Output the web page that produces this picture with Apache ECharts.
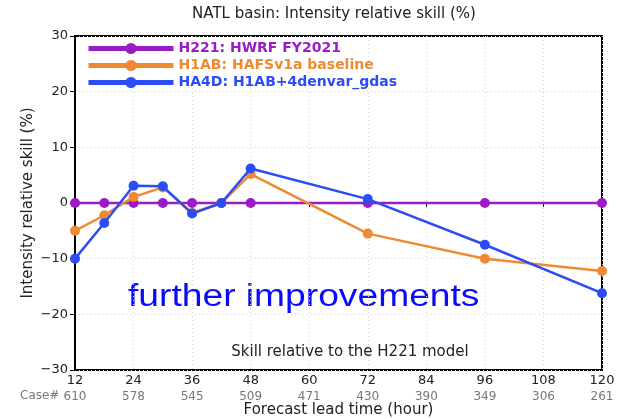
<!DOCTYPE html>
<html>
<head>
<meta charset="utf-8">
<script src="https://cdn.jsdelivr.net/npm/echarts@6/dist/echarts.min.js"></script>
<style>html,body{margin:0;padding:0;background:#fff}#c{width:620px;height:419px}</style>
</head>
<body>
<div id="c"></div>
<script>
const leadTimes = [12, 18, 24, 30, 36, 42, 48, 72, 96, 120];
const h221 = [0, 0, 0, 0, 0, 0, 0, 0, 0, 0];
const h1ab = [-5.0, -2.2, 1.1, 2.8, -1.8, 0, 5.2, -5.5, -10.0, -12.2];
const ha4d = [-10.0, -3.6, 3.1, 3.0, -1.9, 0, 6.2, 0.7, -7.5, -16.2];
const tickHours = [12, 24, 36, 48, 60, 72, 84, 96, 108, 120];
const caseCounts = [610, 578, 545, 509, 471, 430, 390, 349, 306, 261];
const seriesNames = ['H221: HWRF FY2021', 'H1AB: HAFSv1a baseline', 'HA4D: H1AB+4denvar_gdas'];
const colors = ['#9a1cc6', '#f08a32', '#2c4cf5'];

const pairs = arr => leadTimes.map((x, i) => [x, arr[i]]);
const caseMap = {};
tickHours.forEach((h, i) => caseMap[h] = caseCounts[i]);
const F = 'DejaVu Sans';

const chart = echarts.init(document.getElementById('c'));
chart.setOption({
  animation: false,
  grid: { left: 75, right: 18, top: 36, bottom: 49, outerBoundsMode: 'none', containLabel: false,
          show: true, borderColor: '#000', borderWidth: 2, backgroundColor: 'transparent' },
  xAxis: {
    type: 'value', min: 12, max: 120, interval: 12,
    axisLine: { lineStyle: { color: '#000', width: 2 } },
    axisTick: { show: true, inside: false, length: 4, lineStyle: { color: '#000' } },
    splitLine: { show: true, lineStyle: { color: '#d6d6d6', type: [1, 3], width: 1 } },
    axisLabel: {
      margin: 3,
      formatter: v => '{t|' + v + '}\n{c|' + caseMap[v] + '}',
      rich: {
        t: { fontFamily: F, fontSize: 13, color: '#222', lineHeight: 16 },
        c: { fontFamily: F, fontSize: 12, color: '#777', lineHeight: 16 }
      }
    },
    name: 'Forecast lead time (hour)', nameLocation: 'middle', nameGap: 33, nameMoveOverlap: false,
    nameTextStyle: { fontFamily: F, fontSize: 15, color: '#222' }
  },
  yAxis: {
    type: 'value', min: -30, max: 30, interval: 10,
    axisLine: { show: true, lineStyle: { color: '#000', width: 2 } },
    axisTick: { show: true, inside: false, length: 5, lineStyle: { color: '#000' } },
    splitLine: { show: true, lineStyle: { color: '#d6d6d6', type: [1, 3], width: 1 } },
    axisLabel: {
      margin: 7, fontFamily: F, fontSize: 13, color: '#222',
      formatter: v => v < 0 ? '\u2212' + Math.abs(v) : String(v)
    },
    name: 'Intensity relative skill (%)', nameLocation: 'middle', nameGap: 39, nameRotate: 90, nameMoveOverlap: false,
    nameTextStyle: { fontFamily: F, fontSize: 15, color: '#222' }
  },
  legend: {
    orient: 'vertical', left: 86, top: 41, padding: 0, itemWidth: 85, itemHeight: 14, itemGap: 2,
    lineStyle: { width: 5 },
    textStyle: { fontFamily: F, fontSize: 14, fontWeight: 'bold', lineHeight: 15 },
    data: seriesNames.map((n, i) => ({ name: n, textStyle: { color: colors[i] } }))
  },
  series: [h221, h1ab, ha4d].map((d, i) => ({
    name: seriesNames[i], type: 'line', data: pairs(d),
    symbol: 'circle', symbolSize: 10, showSymbol: true,
    itemStyle: { color: colors[i] },
    lineStyle: { color: colors[i], width: 2.5 },
    z: 2 + i
  })),
  graphic: [
    { type: 'text', x: 334, y: 14, style: { text: 'NATL basin: Intensity relative skill (%)', fontFamily: F, fontSize: 15, fill: '#222', align: 'center', verticalAlign: 'middle' } },
    { type: 'text', x: 350, y: 352, style: { text: 'Skill relative to the H221 model', fontFamily: F, fontSize: 15, fill: '#222', align: 'center', verticalAlign: 'middle' } },
    { type: 'text', x: 20, y: 396, style: { text: 'Case#', fontFamily: F, fontSize: 12, fill: '#777', verticalAlign: 'middle' } },
    { type: 'text', x: 128, y: 297, scaleX: 1.2, style: { text: 'further improvements', fontFamily: 'Liberation Sans', fontSize: 31, fill: '#0a0aff', verticalAlign: 'middle' } }
  ]
});
</script>
</body>
</html>
